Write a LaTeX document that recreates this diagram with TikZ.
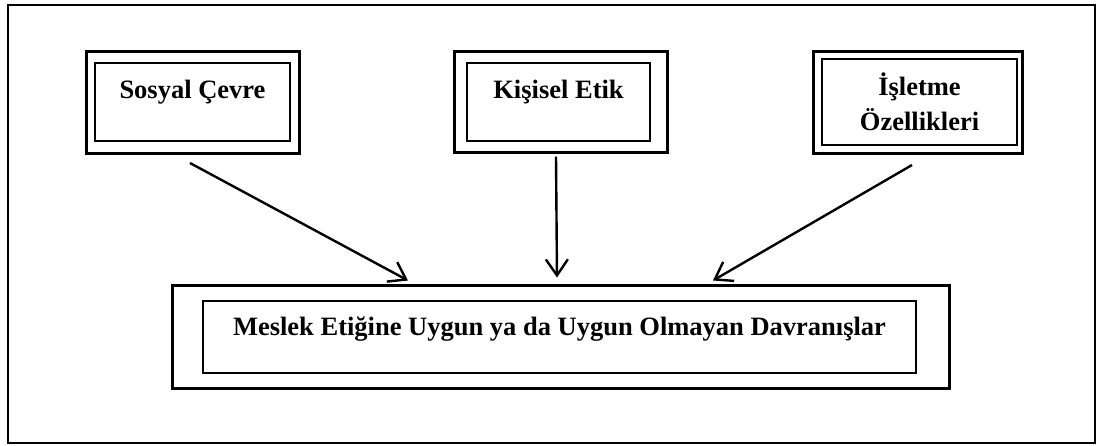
\documentclass[tikz,border=0pt]{standalone}
\usepackage{fontspec}
\setmainfont{Liberation Serif}
\usetikzlibrary{arrows.meta,positioning}

\begin{document}
\begin{tikzpicture}[x=1pt,y=-1pt,node distance=368pt,on grid]
  \tikzstyle{outbox}=[draw,line width=3pt,inner sep=0pt,outer sep=0pt]
  \tikzstyle{inbox}=[draw,line width=2.8pt,inner sep=0pt,outer sep=0pt,align=center,
    font=\bfseries\fontsize{26.5}{35}\selectfont]
  \tikzstyle{arr}=[line width=2.4pt,-{Straight Barb[length=16pt,width=22pt,line width=2.4pt]}]
  \useasboundingbox (0,0) rectangle (1100,445);
  \draw[line width=2.6pt] (8,5) rectangle (1095,443);
  % outer frames
  \node[outbox,minimum width=213pt,minimum height=102pt] (sosyal_out) at (192.5,102) {};
  \node[outbox,minimum width=213pt,minimum height=101pt] (kisisel_out) [right=of sosyal_out] {};
  \node[outbox,minimum width=209pt,minimum height=102pt] (isletme_out) [right=357pt of kisisel_out] {};
  \node[outbox,minimum width=777pt,minimum height=103pt] (davranis_out) [below=235pt of kisisel_out] {};
  % inner boxes with text
  \node[inbox,minimum width=195pt,text height=35pt,text depth=43pt] (sosyal) at (sosyal_out) {Sosyal Çevre};
  \node[inbox,minimum width=183pt,text height=35pt,text depth=43pt] (kisisel) at ([xshift=-2pt]kisisel_out.center) {Kişisel Etik};
  \node[inbox,minimum width=195pt,minimum height=86pt] (isletme) at ([xshift=2pt]isletme_out.center) {İşletme\\Özellikleri};
  \node[inbox,minimum width=713pt,text height=34pt,text depth=38pt] (davranis) at ([xshift=-1pt]davranis_out.center) {Meslek Etiğine Uygun ya da Uygun Olmayan Davranışlar};
  % arrows
  \draw[arr] ([xshift=-2.5pt,yshift=-10pt]sosyal_out.south) -- ([xshift=-152.5pt,yshift=5pt]davranis_out.north);
  \draw[arr] ([xshift=-4.5pt,yshift=-4pt]kisisel_out.south) -- ([xshift=-3.5pt,yshift=8pt]davranis_out.north);
  \draw[arr] ([xshift=-5.5pt,yshift=-12pt]isletme_out.south) -- ([xshift=152.5pt,yshift=5pt]davranis_out.north);
\end{tikzpicture}
\end{document}
